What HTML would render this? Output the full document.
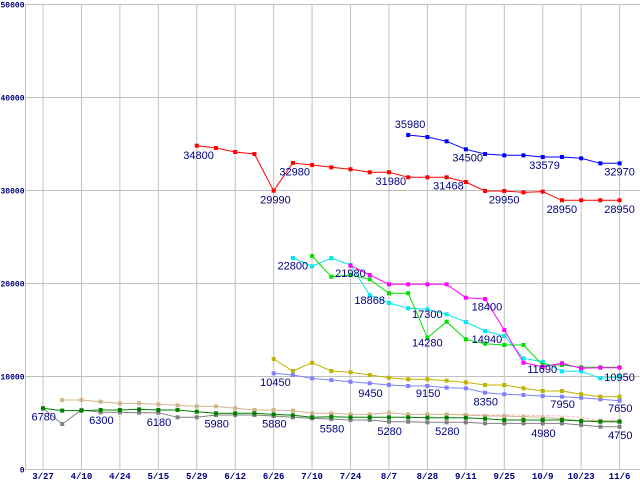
<!DOCTYPE html>
<html><head><meta charset="utf-8"><style>
html,body{margin:0;padding:0;background:#fff;width:640px;height:480px;overflow:hidden}
svg text{font-family:"Liberation Sans",sans-serif}
svg text.tick{font-family:"Liberation Mono",monospace}
</style></head><body>
<svg id="chart" width="640" height="480" xmlns="http://www.w3.org/2000/svg"></svg>
<script>
const xLabels=["3/27","4/10","4/24","5/15","5/29","6/12","6/26","7/10","7/24","8/7","8/28","9/11","9/25","10/9","10/23","11/6"];
const yTicks=[0,10000,20000,30000,40000,50000];
const redStart=8;
const redVals=[34820,34570,34140,33920,29980,32960,32740,32490,32280,31960,31960,31420,31420,31420,30910,29950,29950,29800,29880,28950,28950,28950,28950];
const blueStart=19;
const blueVals=[35970,35750,35290,34430,33920,33780,33780,33600,33600,33460,32920,32920];
const cyanStart=13;
const cyanVals=[22740,21850,22740,21990,18760,17900,17330,17220,16690,15860,14890,14350,11950,11590,10560,10560,9800,9980];
const magentaStart=16;
const magentaVals=[21920,20910,19910,19910,19910,19910,18470,18330,15000,11480,11050,11420,10880,10950,10950];
const limeStart=14;
const limeVals=[22950,20730,20910,20450,18950,18950,14170,15890,14000,13520,13390,13390,11240,11240,10990,10990,10990];
const yellowStart=12;
const yellowVals=[11880,10590,11480,10590,10450,10160,9870,9700,9700,9550,9370,9090,9090,8730,8440,8440,8090,7830,7830];
const lavStart=12;
const lavVals=[10340,10160,9800,9620,9440,9270,9090,8980,8980,8800,8730,8260,8090,8010,7900,7830,7720,7550,7400];
const tanStart=1;
const tanVals=[7470,7470,7290,7110,7110,7000,6900,6790,6790,6580,6400,6400,6330,6040,6040,5930,5930,6110,5930,5930,5930,5860,5750,5750,5680,5610,5460,5250,5250,5250];
const grayStart=0;
const grayVals=[6580,4890,6400,6150,6150,6110,6110,5610,5610,5860,5860,5860,5750,5610,5500,5430,5320,5320,5140,5140,5070,5070,5070,4960,4960,4960,4960,4960,4790,4600,4600];
const greenStart=0;
const greenVals=[6580,6330,6330,6400,6400,6470,6400,6400,6220,6040,6040,6040,5930,5830,5610,5680,5610,5610,5610,5610,5570,5570,5570,5460,5320,5320,5320,5320,5210,5140,5140];
const pinkStart=21;
const pinkVals=[5930,5930,5860,5860,5860,5800,5750,5610,5200,5000];
const labelTexts=["34800","32980","29990","31980","31468","35980","34500","33579","32970","29950","28950","28950","22800","21980","18868","17300","14280","18400","14940","11690","10950","10450","9450","9150","8350","7950","7650","5580","5280","5280","4980","4750","6780","6300","6180","5980","5880"];
const labelIdx=[7.3,12.3,11.3,17.3,20.3,18.3,21.3,25.3,29.2,23.2,26.2,29.2,12.2,15.2,16.2,19.2,19.2,22.3,22.3,25.2,29.2,11.3,16.4,19.4,22.4,26.4,29.4,14.4,17.4,20.4,25.4,29.4,-0.6,2.4,5.4,8.4,11.4];
const labelVal=[33400,31600,28600,30600,30100,36700,33100,32300,31600,28600,27600,27600,21500,20700,17800,16300,13200,17100,13600,10400,9500,9000,7800,7800,6900,6600,6200,4000,3700,3700,3500,3300,5250,4900,4700,4500,4500];

const svg=document.getElementById('chart');
const NS='http://www.w3.org/2000/svg';
const X=i=>43+19.22*i;
const Y=v=>469.5-v*0.0093;
function mk(tag,attrs){const e=document.createElementNS(NS,tag);for(const k in attrs)e.setAttribute(k,attrs[k]);svg.appendChild(e);return e;}

yTicks.forEach(t=>{
  const l=mk('line',{x1:25,x2:640,y1:Y(t),y2:Y(t),stroke:'#c0c0c0','stroke-width':1});
  
  
  const tx=mk('text',{x:24.5,y:Y(t)+3,'text-anchor':'end','font-size':8,'font-weight':'bold',fill:'#000080',class:'tick'});
  tx.textContent=t;
  
  
});
xLabels.forEach((s,k)=>{
  const x=X(k*2);
  const l=mk('line',{x1:x,x2:x,y1:Y(50000),y2:Y(0),stroke:'#c0c0c0','stroke-width':1});
  
  
  const tx=mk('text',{x:x,y:479,'text-anchor':'middle','font-size':9,'font-weight':'bold',fill:'#000080',class:'tick'});
  tx.textContent=s;
  
  
});
const ax=mk('line',{x1:25.5,x2:25.5,y1:Y(50000),y2:Y(0),stroke:'#c0c0c0'});



function series(name,start,vals,color,dash){
  const pts=vals.map((v,i)=>X(start+i).toFixed(1)+','+Y(v).toFixed(1)).join(' ');
  const p=mk('polyline',{points:pts,fill:'none',stroke:color,'stroke-width':1});
  if(dash)p.setAttribute('stroke-dasharray','3,2');
  
  
  if(dash)return;
  vals.forEach((v,i)=>{
    const r=mk('rect',{x:X(start+i)-2,y:Y(v)-2,width:4,height:4,fill:color});
    
    
  });
}
series('pink-series',pinkStart,pinkVals,'#ffb0b0',true);
series('tan-series',tanStart,tanVals,'#d2b48c');
series('gray-series',grayStart,grayVals,'#808080');
series('darkgreen-series',greenStart,greenVals,'#008000');
series('lavender-series',lavStart,lavVals,'#8080ff');
series('yellow-series',yellowStart,yellowVals,'#c0b400');
series('cyan-series',cyanStart,cyanVals,'#00e8f0');
series('lime-series',limeStart,limeVals,'#00e000');
series('magenta-series',magentaStart,magentaVals,'#ff00ff');
series('red-series',redStart,redVals,'#ff0000');
series('blue-series',blueStart,blueVals,'#0000ff');

labelTexts.forEach((s,i)=>{
  const t=mk('text',{x:X(labelIdx[i]),y:Y(labelVal[i]),'font-size':11,fill:'#000080'});
  t.textContent=s;
  
  
});
</script>
</body></html>
